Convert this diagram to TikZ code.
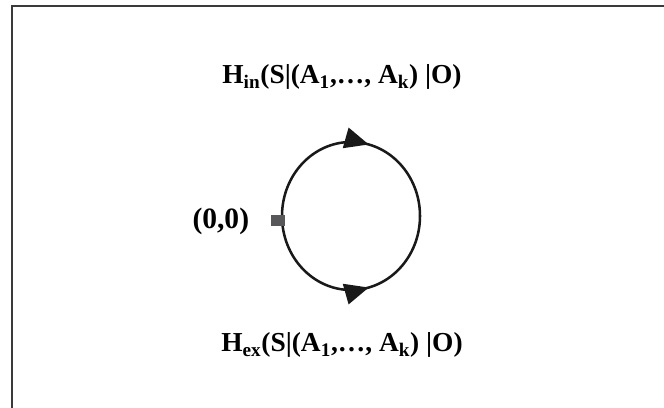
\documentclass[tikz,border=0pt]{standalone}
\usepackage{fontspec}
\setmainfont{Liberation Serif}
\usepackage{tikz}
\definecolor{framegray}{HTML}{3A3A3A}
\definecolor{markgray}{HTML}{58585A}
\usetikzlibrary{arrows.meta,decorations.markings}

\begin{document}
\begin{tikzpicture}[font=\fontsize{19.5}{23}\selectfont\bfseries,
 lbl/.style={inner sep=0pt},
 origbox/.style={fill=markgray,minimum width=0.33cm,minimum height=0.29cm,inner sep=0pt},
 flow/.style={line width=1.8pt,draw=black!90,postaction={decorate},%
   decoration={markings,mark=at position 0.58 with {\arrow{Triangle[length=6mm,width=5.2mm]}}}}]
\useasboundingbox (0,0) rectangle (16.6,10.2);
\draw[framegray,line width=1.5pt] (0.3,0) |- (16.6,10.04);
\coordinate (west) at (7.05,4.8);
\draw[flow] (west) arc[start angle=180,end angle=0,x radius=1.725,y radius=1.85] coordinate (east);
\draw[flow] (west) arc[start angle=180,end angle=360,x radius=1.725,y radius=1.85];
\node[origbox] (origin) at (6.95,4.69) {};
\node[lbl,font=\fontsize{21}{25}\selectfont\bfseries] (zero) at (5.52,4.67) {(0,0)};
\node[lbl,anchor=base] (hin) at (8.55,8.1) {H\textsubscript{in}(S|(A\textsubscript{1},…, A\textsubscript{k}) |O)};
\node[lbl,anchor=base] (hex) at (8.55,1.4) {H\textsubscript{ex}(S|(A\textsubscript{1},…, A\textsubscript{k}) |O)};
\end{tikzpicture}
\end{document}
